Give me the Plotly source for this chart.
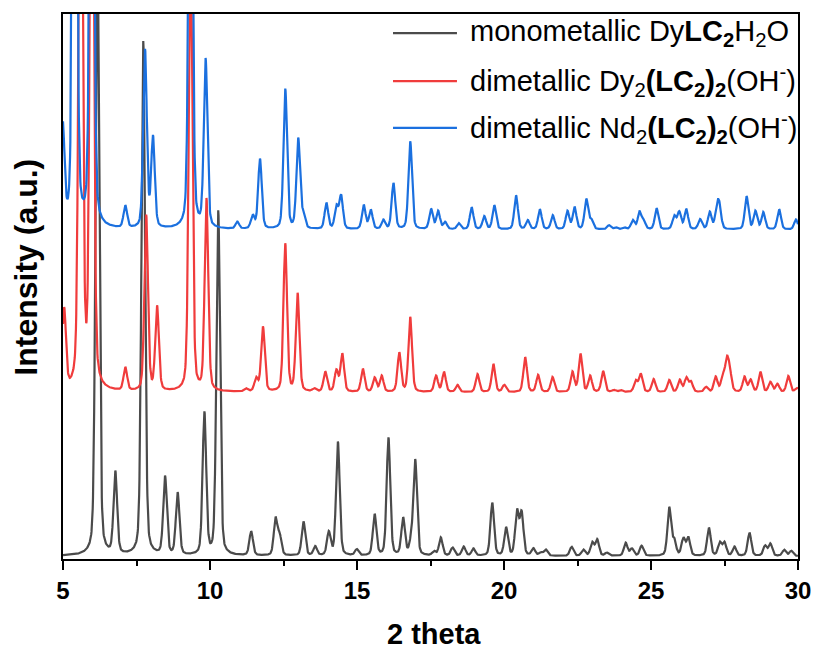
import numpy as np
import plotly.graph_objects as go

# ---- reflection lists: 2θ position (deg) and peak intensity above background (a.u.) ----
mono_pos = [6.17, 6.78, 7.73, 8.47, 8.90, 9.81, 10.28, 11.40, 12.23, 12.37, 13.18, 13.58,
            14.04, 14.35, 14.99, 15.60, 16.07, 16.57, 16.84, 16.98, 17.62, 17.85, 18.25,
            18.63, 18.96, 19.60, 20.07, 20.44, 20.60, 21.00, 21.25, 21.42, 22.30, 22.70,
            23.00, 23.17, 23.50, 24.14, 24.35, 24.68, 25.62, 25.79, 26.10, 26.27, 26.97,
            27.34, 27.50, 27.84, 28.35, 28.88, 29.06, 29.53, 29.77]
mono_int = [620, 82, 515, 78, 62, 142, 345, 24, 36, 19, 34, 9,
            23, 114, 6, 41, 118, 37, 12, 95, 4, 18, 8,
            9, 7, 53, 28, 44, 42, 7, 3, 6, 9, 6,
            13, 16, 3, 13, 7, 10, 48, 15, 17, 18, 28,
            13, 13, 9, 23, 10, 12, 6, 5]

dy2_pos = [5.04, 5.60, 5.98, 7.12, 7.83, 8.20, 9.34, 9.88, 11.22, 11.57, 11.80, 12.56,
           12.98, 13.55, 13.92, 14.30, 14.50, 15.20, 15.60, 15.84, 16.44, 16.81, 17.69,
           17.96, 18.42, 19.10, 19.64, 20.01, 20.72, 21.16, 21.65, 22.33, 22.60, 22.93,
           23.37, 23.74, 23.97, 24.48, 24.65, 25.09, 25.62, 25.98, 26.20, 26.36, 26.87,
           27.20, 27.44, 27.58, 27.68, 28.18, 28.39, 28.72, 29.06, 29.30, 29.67, 29.96]
dy2_int = [80, 780, 780, 23, 176, 84, 450, 192, 3, 13, 65, 148,
           98, 3, 20, 21, 38, 23, 14, 16, 39, 75, 16,
           20, 7, 18, 28, 7, 35, 17, 15, 20, 38, 16,
           21, 2, 2, 11, 18, 13, 12, 12, 14, 10, 5,
           15, 15, 29, 18, 15, 12, 20, 10, 8, 16, 4]

nd2_pos = [4.99, 5.40, 5.98, 7.12, 7.79, 8.06, 9.34, 9.85, 10.93, 11.45, 11.70, 12.56,
           13.00, 13.17, 13.96, 14.30, 14.46, 15.23, 15.47, 15.90, 16.24, 16.81, 17.52,
           17.76, 18.00, 18.46, 18.90, 19.33, 19.67, 20.41, 20.81, 21.22, 21.66, 22.16,
           22.40, 22.80, 22.97, 23.57, 23.80, 24.08, 24.38, 24.61, 24.75, 25.19, 25.79,
           25.96, 26.20, 26.67, 27.00, 27.24, 27.33, 28.25, 28.55, 28.82, 29.36, 29.93]
nd2_int = [100, 900, 800, 22, 178, 90, 600, 168, 7, 13, 70, 140,
           90, 13, 26, 22, 33, 24, 19, 9, 46, 88, 20,
           18, 7, 6, 22, 13, 24, 34, 9, 20, 14, 18,
           22, 30, 9, 4, 2, 2, 9, 17, 8, 21, 13,
           17, 20, 10, 17, 20, 20, 33, 18, 17, 20, 10]

# background level of each pattern in the stacked plot
mono_offset = 3
dy2_offset = 167
nd2_offset = 330

# ---- powder pattern profile (pseudo-Voigt peaks on a flat background) ----
FWHM = 0.145
ETA = 0.3
two_theta = np.round(np.arange(5.0, 30.0 + 1e-9, 0.01), 2)


def pattern(pos, inten, offset):
    x = two_theta[:, None]
    p = np.asarray(pos)[None, :]
    h = np.asarray(inten, dtype=float)[None, :]
    hw = FWHM / 2
    sigma = FWHM / 2.3548
    lor = hw**2 / ((x - p) ** 2 + hw**2)
    gau = np.exp(-((x - p) ** 2) / (2 * sigma**2))
    return offset + (h * (ETA * lor + (1 - ETA) * gau)).sum(axis=1)


series = [
    ("monometallic Dy<b>LC<sub>2</sub></b>H<sub>2</sub>O", mono_pos, mono_int, mono_offset, "#4b4b4b"),
    ("dimetallic Dy<sub>2</sub><b>(LC<sub>2</sub>)<sub>2</sub></b>(OH<sup>-</sup>)", dy2_pos, dy2_int, dy2_offset, "#f03c3c"),
    ("dimetallic Nd<sub>2</sub><b>(LC<sub>2</sub>)<sub>2</sub></b>(OH<sup>-</sup>)", nd2_pos, nd2_int, nd2_offset, "#1b70df"),
]

FONT = "Liberation Sans, Arial, sans-serif"

fig = go.Figure()
for name, pos, inten, off, color in series:
    fig.add_trace(go.Scatter(x=two_theta, y=pattern(pos, inten, off), mode="lines",
                             name=name, line=dict(color=color, width=2.2), showlegend=False))

# ---- legend drawn as line samples + rich text ----
legend_y = [0.965, 0.877, 0.791]
for (name, _, _, _, color), ly in zip(series, legend_y):
    fig.add_shape(type="line", xref="paper", yref="paper", x0=0.449, x1=0.536, y0=ly, y1=ly,
                  line=dict(color=color, width=2.2))
    fig.add_annotation(text=name, xref="paper", yref="paper", x=0.551, y=ly,
                       xanchor="left", yanchor="middle", showarrow=False,
                       font=dict(family=FONT, size=29, color="black"))

# ---- axis titles ----
fig.add_annotation(text="<b>2 theta</b>", xref="paper", yref="paper", x=0.505, y=-0.138,
                   xanchor="center", yanchor="middle", showarrow=False,
                   font=dict(family=FONT, size=29, color="black"))
fig.add_annotation(text="<b>Intensity (a.u.)</b>", xref="paper", yref="paper", x=-0.05, y=0.535,
                   xanchor="center", yanchor="middle", textangle=-90, showarrow=False,
                   font=dict(family=FONT, size=32, color="black"))

fig.update_layout(
    width=823, height=654,
    margin=dict(l=63, r=16, t=13, b=95),
    paper_bgcolor="white", plot_bgcolor="white",
    xaxis=dict(range=[5, 30], tickvals=[5, 10, 15, 20, 25, 30], ticks="outside", ticklen=9,
               tickwidth=2, tickcolor="black", showline=True, mirror=True, linecolor="black",
               linewidth=2, showgrid=False, zeroline=False,
               tickfont=dict(family=FONT, size=24, color="black", weight="bold"),
               minor=dict(tickvals=[7.5, 12.5, 17.5, 22.5, 27.5], ticks="outside", ticklen=5,
                          tickwidth=2, tickcolor="black")),
    yaxis=dict(range=[0, 546], showticklabels=False, ticks="", showline=True, mirror=True,
               linecolor="black", linewidth=2, showgrid=False, zeroline=False),
)

fig.write_html("out.html")
